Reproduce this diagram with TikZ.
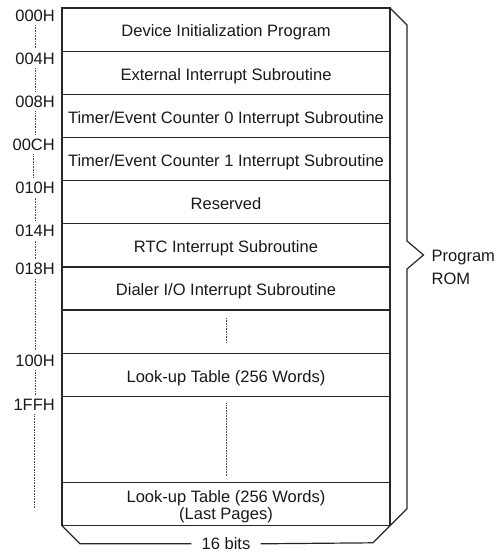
\documentclass[tikz,border=0pt]{standalone}
\usepackage{fontspec}
\setmainfont{Liberation Sans}
\usetikzlibrary{positioning}
\tikzset{
  txt/.style={font=\fontsize{16.5}{17}\selectfont, text=black!90},
  row/.style={txt, draw=black!85, line width=1.2pt, outer sep=0pt, inner sep=0pt,
    minimum width=328pt, minimum height=43.15pt, text height=17.8pt, text depth=3pt, align=center},
  addr/.style={txt, inner sep=0pt, anchor=base east},
  dotline/.style={black!70, line width=0.7pt, dash pattern=on 0.7pt off 0.9pt},
  romline/.style={black!85, line width=1.2pt}
}
\begin{document}
\begin{tikzpicture}[x=1pt,y=-1pt]
    \useasboundingbox (0,0) rectangle (500,552);
    \node [row, anchor=north west] (r0) at (62,8) {Device Initialization Program};
    \node [row, below=0pt of r0] (r1) {External Interrupt Subroutine};
    \node [row, below=0pt of r1] (r2) {Timer/Event Counter 0 Interrupt Subroutine};
    \node [row, below=0pt of r2] (r3) {Timer/Event Counter 1 Interrupt Subroutine};
    \node [row, below=0pt of r3] (r4) {Reserved};
    \node [row, below=0pt of r4] (r5) {RTC Interrupt Subroutine};
    \node [row, below=0pt of r5] (r6) {Dialer I/O Interrupt Subroutine};
    \node [row, below=0pt of r6] (r7) {};
    \node [row, below=0pt of r7] (r8) {Look-up Table (256 Words)};
    \node [row, below=0pt of r8, minimum height=86.3pt] (r9) {};
    \node [row, below=0pt of r9, text height=34pt, text depth=3pt] (r10) {Look-up Table (256 Words)\\(Last Pages)};
    \node [addr] (a0) at ([xshift=-7pt,yshift=-13pt]r0.north west) {000H};
    \node [addr] (a1) at ([xshift=-7pt,yshift=-13pt]r1.north west) {004H};
    \node [addr] (a2) at ([xshift=-7pt,yshift=-13pt]r2.north west) {008H};
    \node [addr] (a3) at ([xshift=-7pt,yshift=-13pt]r3.north west) {00CH};
    \node [addr] (a4) at ([xshift=-7pt,yshift=-13pt]r4.north west) {010H};
    \node [addr] (a5) at ([xshift=-7pt,yshift=-13pt]r5.north west) {014H};
    \node [addr] (a6) at ([xshift=-7pt,yshift=-8pt]r6.north west) {018H};
    \node [addr] (a8) at ([xshift=-7pt,yshift=-13pt]r8.north west) {100H};
    \node [addr] (a9) at ([xshift=-7pt,yshift=-14pt]r9.north west) {1FFH};
    \draw [dotline] ([yshift=-4pt]a0.base) -- ([yshift=16pt]a0.base |- a1.base);
    \draw [dotline] ([yshift=-4pt]a1.base) -- ([yshift=16pt]a1.base |- a2.base);
    \draw [dotline] ([yshift=-4pt]a2.base) -- ([yshift=16pt]a2.base |- a3.base);
    \draw [dotline] ([yshift=-4pt]a3.base) -- ([yshift=16pt]a3.base |- a4.base);
    \draw [dotline] ([yshift=-4pt]a4.base) -- ([yshift=16pt]a4.base |- a5.base);
    \draw [dotline] ([yshift=-4pt]a5.base) -- ([yshift=16pt]a5.base |- a6.base);
    \draw [dotline] ([yshift=-4pt]a6.base) -- ([yshift=16pt]a6.base |- a8.base);
    \draw [dotline] ([yshift=-4pt]a8.base) -- ([yshift=16pt]a8.base |- a9.base);
    \draw [dotline] ([yshift=-4pt]a9.base) -- ++(0,93);
    \draw [dotline] ([yshift=-8pt]r7.north) -- ([yshift=11pt]r7.south);
    \draw [dotline] ([yshift=-7pt]r9.north) -- ([yshift=7pt]r9.south);
    \draw [romline] (r0.north east) -- ++(17,17) -- ++(0,216) -- ++(16.5,14) coordinate (tip)
        -- ++(-16.5,14) -- ([xshift=17pt,yshift=17pt]r10.south east) -- (r10.south east);
    \node [txt, anchor=west, align=left, inner sep=0pt, font=\fontsize{16.5}{23}\selectfont] (rom)
        at ([xshift=8pt,yshift=-12pt]tip) {Program\\ROM};
    \node [txt, inner xsep=10pt, inner ysep=0pt] (bits) at ([yshift=-18pt]r10.south) {16 bits};
    \draw [romline] (r10.south west) -- ++(18,18) -- (bits.west);
    \draw [romline] (bits.east) -- ([xshift=-17pt,yshift=-17pt]r10.south east) -- (r10.south east);
\end{tikzpicture}
\end{document}
